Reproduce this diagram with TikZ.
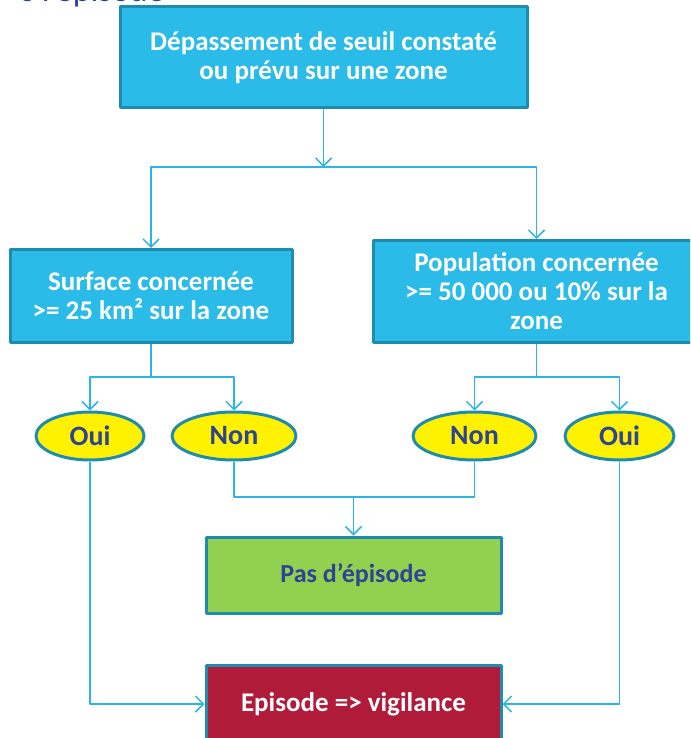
\documentclass[tikz,border=0pt]{standalone}
\usepackage{fontspec}
\setmainfont{Carlito}
\usetikzlibrary{arrows.meta,shapes.geometric}
\definecolor{boxblue}{HTML}{2ABBE8}
\definecolor{boxedge}{HTML}{1F8BAF}
\definecolor{flowblue}{HTML}{2BB5E6}
\definecolor{okgreen}{HTML}{92D050}
\definecolor{alertred}{HTML}{B01B3A}
\definecolor{darkblue}{HTML}{2F4394}
\tikzset{
  stepbox/.style={draw=boxedge,line width=3pt,fill=boxblue,rectangle,inner sep=0pt,
    text=white,align=center,font=\bfseries\fontsize{27}{29}\selectfont},
  answer/.style={draw=boxedge,line width=3pt,fill=yellow,ellipse,inner sep=0pt,
    minimum height=48pt,text=darkblue,font=\bfseries\fontsize{28}{30}\selectfont},
  flow/.style={draw=flowblue,line width=1.5pt},
  flowarrow/.style={flow,-{Straight Barb[length=8pt,width=16pt,line width=1.5pt]}},
}
\begin{document}
\begin{tikzpicture}[x=1pt,y=-1pt,line join=bevel]
        \useasboundingbox (0,0) rectangle (690,738);
        \clip (0,0) rectangle (690,738);
        %%
        \node (titre) at (168,2) [anchor=base east,text=darkblue,font=\fontsize{34}{38}\selectfont] {s l’épisode};
        \node (seuil) at (323.5,57.5) [stepbox,minimum width=407pt,minimum height=101pt] {Dépassement de seuil constaté\\ou prévu sur une zone};
        \node (surf) at (151,296) [stepbox,minimum width=282pt,minimum height=93pt] {Surface concernée\\>= 25 km² sur la zone};
        \node (pop) at (536.5,291.5) [stepbox,minimum width=327pt,minimum height=102pt] {Population concernée\\>= 50 000 ou 10\% sur la\\zone};
        \node (oui1) at (90,436) [answer,minimum width=108pt] {Oui};
        \node (non1) at (234,436) [answer,minimum width=124pt] {Non};
        \node (non2) at (474.5,436) [answer,minimum width=123pt] {Non};
        \node (oui2) at (619.5,436) [answer,minimum width=109pt] {Oui};
        \node (pas) at (353.5,575) [stepbox,fill=okgreen,text=darkblue,minimum width=295pt,minimum height=76pt,font=\bfseries\fontsize{26}{28}\selectfont] {Pas d’épisode};
        \node (epi) at (353.5,704) [stepbox,fill=alertred,minimum width=295pt,minimum height=78pt] {Episode => vigilance};
        \coordinate (split) at (323.5,167);
        \coordinate (lsplit) at (151,377);
        \coordinate (rsplit) at (536.5,377);
        \coordinate (join) at (353.5,497);
        \draw [flowarrow] (seuil) -- (split);
        \draw [flowarrow] (split) -| (surf);
        \draw [flowarrow] (split) -| (pop);
        \draw [flow] (surf) -- (lsplit);
        \draw [flowarrow] (lsplit) -| (oui1);
        \draw [flowarrow] (lsplit) -| (non1);
        \draw [flow] (pop) -- (rsplit);
        \draw [flowarrow] (rsplit) -| (non2);
        \draw [flowarrow] (rsplit) -| (oui2);
        \draw [flow] (non1) |- (join);
        \draw [flow] (non2) |- (join);
        \draw [flowarrow] (join) -- (pas);
        \draw [flowarrow] (oui1) |- (epi);
        \draw [flowarrow] (oui2) |- (epi);
        %
    \end{tikzpicture}
\end{document}
